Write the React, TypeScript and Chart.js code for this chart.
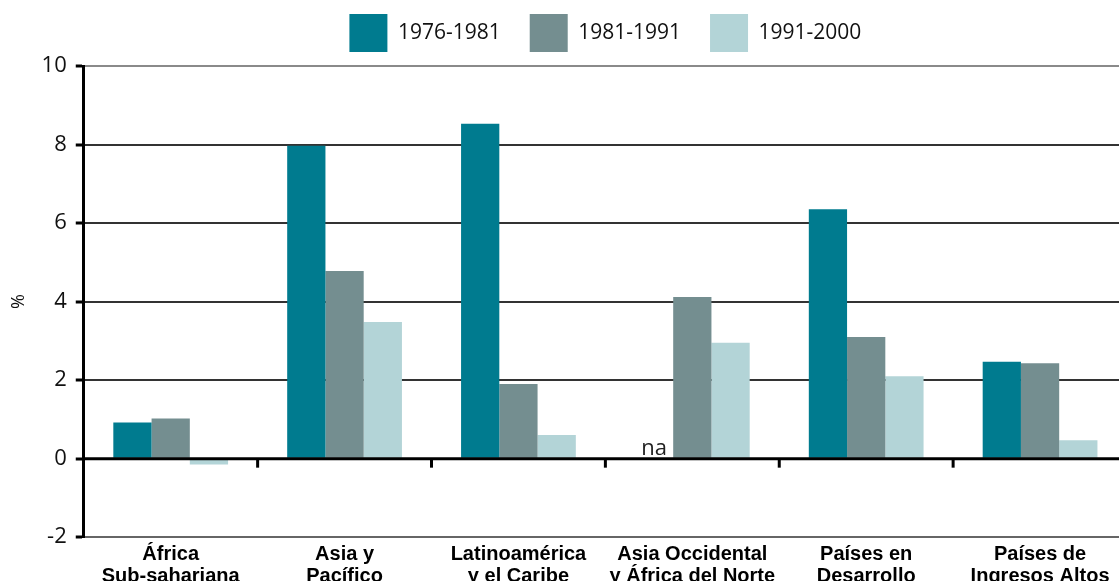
import React, { useEffect, useRef } from "react";
import { Chart, registerables } from "chart.js";

Chart.register(...registerables);

const categories: string[][] = [
  ["África", "Sub-sahariana"],
  ["Asia y", "Pacífico"],
  ["Latinoamérica", "y el Caribe"],
  ["Asia Occidental", "y África del Norte"],
  ["Países en", "Desarrollo"],
  ["Países de", "Ingresos Altos"],
];
const seriesNames = ["1976-1981", "1981-1991", "1991-2000"];
const s1976: (number | null)[] = [0.92, 7.97, 8.53, null, 6.35, 2.47];
const s1981: number[] = [1.02, 4.78, 1.9, 4.12, 3.1, 2.43];
const s1991: number[] = [-0.15, 3.48, 0.6, 2.95, 2.1, 0.47];
const colors = ["#007B8F", "#748E90", "#B3D4D7"];
const naLabel = "na";
const naIndex = 3;

const zeroAxisPlugin = {
  id: "zeroAxis",
  afterDatasetsDraw(chart: any) {
    const { ctx, chartArea, scales } = chart;
    const x = scales.x;
    const y = scales.y;
    const y0 = y.getPixelForValue(0);
    ctx.save();
    ctx.strokeStyle = "#000";
    ctx.lineWidth = 3;
    ctx.beginPath();
    ctx.moveTo(chartArea.left, y0);
    ctx.lineTo(chartArea.right, y0);
    ctx.stroke();
    for (let i = 0; i < categories.length - 1; i++) {
      const xb = (x.getPixelForValue(i) + x.getPixelForValue(i + 1)) / 2;
      ctx.beginPath();
      ctx.moveTo(xb, y0);
      ctx.lineTo(xb, y0 + 9);
      ctx.stroke();
    }
    // "na" marker for the missing value
    const meta = chart.getDatasetMeta(0);
    const meta2 = chart.getDatasetMeta(1);
    let nx = meta.data[naIndex] ? meta.data[naIndex].x : NaN;
    if (!isFinite(nx)) {
      nx = meta2.data[naIndex].x - (meta2.data[0].x - meta.data[0].x);
    }
    ctx.fillStyle = "#222";
    ctx.font = "22px 'Open Sans'";
    ctx.textAlign = "center";
    ctx.textBaseline = "alphabetic";
    ctx.fillText(naLabel, nx, y0 - 4);
    ctx.restore();
  },
};

export default function App() {
  const ref = useRef<HTMLCanvasElement | null>(null);
  useEffect(() => {
    if (!ref.current) return;
    const chart = new Chart(ref.current, {
      type: "bar",
      data: {
        labels: categories,
        datasets: [
          { label: seriesNames[0], data: s1976, backgroundColor: colors[0] },
          { label: seriesNames[1], data: s1981, backgroundColor: colors[1] },
          { label: seriesNames[2], data: s1991, backgroundColor: colors[2] },
        ],
      },
      options: {
        responsive: false,
        animation: false,
        devicePixelRatio: 1,
        layout: { padding: { left: 0, right: 8, top: 0, bottom: 4 } },
        datasets: {
          bar: { categoryPercentage: 0.66, barPercentage: 1.0, borderWidth: 0 },
        },
        plugins: {
          tooltip: { enabled: false },
          legend: {
            position: "top",
            fullSize: false,
            labels: {
              boxWidth: 38,
              boxHeight: 38,
              padding: 29,
              color: "#111",
              font: { family: "'Open Sans'", size: 21 },
            },
          },
          subtitle: {
            display: true,
            text: "",
            weight: 500,
            position: "top",
            padding: 0,
            font: { size: 4, lineHeight: 1 },
          },
        },
        scales: {
          x: {
            grid: { display: false, drawTicks: false },
            border: { display: false },
            ticks: {
              autoSkip: false,
              maxRotation: 0,
              minRotation: 0,
              padding: 6,
              color: "#000",
              font: { family: "'Liberation Sans'", size: 20, weight: "bold", lineHeight: 1.12 },
            },
          },
          y: {
            min: -2,
            max: 10,
            ticks: {
              stepSize: 2,
              padding: 9,
              color: "#111",
              font: { family: "'Open Sans'", size: 22 },
            },
            grid: {
              color: (c: any) => {
                const v = c.tick ? c.tick.value : null;
                if (v === 0) return "rgba(0,0,0,0)";
                if (v === 10) return "#8a8a8a";
                if (v === -2) return "#666";
                return "#333";
              },
              lineWidth: 2,
              drawTicks: true,
              tickLength: 8,
              tickColor: "#000",
              tickWidth: 3,
            },
            border: { display: true, color: "#000", width: 3 },
            title: {
              display: true,
              text: "%",
              color: "#111",
              font: { family: "'Open Sans'", size: 18 },
              padding: { top: 8, bottom: 3 },
            },
          },
        },
      },
      plugins: [zeroAxisPlugin],
    });
    return () => chart.destroy();
  }, []);

  return (
    <div
      style={{
        position: "absolute",
        left: 0,
        top: 0,
        width: 1119,
        height: 581,
        overflow: "hidden",
        background: "#fff",
      }}
    >
      <canvas
        ref={ref}
        width={1135}
        height={613}
        style={{ display: "block", width: 1135, height: 613, marginTop: -15 }}
      />
    </div>
  );
}
